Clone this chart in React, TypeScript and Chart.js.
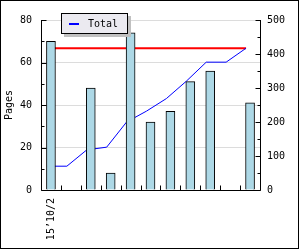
import React, { useEffect, useRef } from "react";
import { Chart, registerables } from "chart.js";

Chart.register(...registerables);

const categories = ["15\u201910/2", "", "", "", "", "", "", "", "", "", ""];
const pages = [70, null, 48, 8, 74, 32, 37, 51, 56, null, 41];
const totals = [70, 70, 118, 126, 200, 232, 269, 320, 376, 376, 417];
const target = [417, 417, 417, 417, 417, 417, 417, 417, 417, 417, 417];
const leftTicks = { min: 0, max: 80, step: 20 };
const rightTicks = { min: 0, max: 500, step: 100 };
// line points sit slightly left of the bar centres (fraction of a category), as in the original
const lineShift = 0.2;

const FONT = "'DejaVu Sans Mono', monospace";

const shiftPlugin = {
  id: "lineShift",
  beforeDatasetDraw(chart: any, args: any) {
    if (args.meta.type !== "line") return;
    const x = chart.scales.x;
    const w = x.getPixelForValue(1) - x.getPixelForValue(0);
    chart.ctx.save();
    chart.ctx.translate(-Math.round(w * lineShift), 0);
  },
  afterDatasetDraw(chart: any, args: any) {
    if (args.meta.type !== "line") return;
    chart.ctx.restore();
  },
};

const framePlugin = {
  id: "frame",
  beforeDraw(chart: any) {
    const ctx = chart.ctx;
    ctx.save();
    ctx.fillStyle = "#ffffff";
    ctx.fillRect(0, 0, chart.width, chart.height);
    ctx.restore();
  },
  afterDraw(chart: any) {
    const ctx = chart.ctx;
    const { left, right, top, bottom } = chart.chartArea;
    const y = chart.scales.y;
    const y1 = chart.scales.y1;
    const x = chart.scales.x;
    ctx.save();
    ctx.strokeStyle = "#000";
    ctx.lineWidth = 1;
    ctx.beginPath();
    const L = Math.round(left) + 0.5;
    const R = Math.round(right) + 0.5;
    const B = Math.round(bottom) + 0.5;
    ctx.moveTo(L, Math.round(top));
    ctx.lineTo(L, B);
    ctx.lineTo(R, B);
    ctx.lineTo(R, Math.round(top));
    for (let v = leftTicks.min; v <= leftTicks.max; v += leftTicks.step / 2) {
      const p = Math.round(y.getPixelForValue(v)) + 0.5;
      const len = v % leftTicks.step === 0 ? 5 : 3;
      ctx.moveTo(L, p);
      ctx.lineTo(L + len, p);
    }
    for (let v = rightTicks.min; v <= rightTicks.max; v += rightTicks.step / 2) {
      const p = Math.round(y1.getPixelForValue(v)) + 0.5;
      const len = v % rightTicks.step === 0 ? 5 : 3;
      ctx.moveTo(R, p);
      ctx.lineTo(R - len, p);
    }
    for (let i = 0; i < categories.length - 1; i++) {
      const p =
        Math.round((x.getPixelForValue(i) + x.getPixelForValue(i + 1)) / 2) + 0.5;
      ctx.moveTo(p, B);
      ctx.lineTo(p, B - 5);
    }
    ctx.stroke();

    // legend
    const lx = 61, ly = 13, lw = 67, lh = 21;
    ctx.fillStyle = "#c0c0c0";
    ctx.fillRect(lx + 3, ly + 3, lw, lh);
    ctx.fillStyle = "#ebeaf0";
    ctx.fillRect(lx, ly, lw, lh);
    ctx.strokeStyle = "#000";
    ctx.strokeRect(lx + 0.5, ly + 0.5, lw - 1, lh - 1);
    const ds = chart.data.datasets[1];
    ctx.strokeStyle = ds.borderColor;
    ctx.lineWidth = 2;
    ctx.beginPath();
    ctx.moveTo(lx + 8, ly + 11);
    ctx.lineTo(lx + 18, ly + 11);
    ctx.stroke();
    ctx.fillStyle = "#000";
    ctx.font = "10px " + FONT;
    ctx.textBaseline = "middle";
    ctx.textAlign = "left";
    ctx.fillText(ds.label, lx + 27, ly + 11);

    ctx.lineWidth = 1;
    ctx.strokeStyle = "#000";
    ctx.strokeRect(0.5, 0.5, 298, 248);
    ctx.restore();
  },
};

export default function App() {
  const ref = useRef<HTMLCanvasElement>(null);
  useEffect(() => {
    if (!ref.current) return;
    const chart = new Chart(ref.current, {
      type: "bar",
      data: {
        labels: categories,
        datasets: [
          {
            type: "bar",
            label: "Pages",
            data: pages as any,
            backgroundColor: "#add8e6",
            borderColor: "#000",
            borderWidth: 1,
            barThickness: 9,
            yAxisID: "y",
            order: 0,
          },
          {
            type: "line",
            label: "Total",
            data: totals,
            borderColor: "#0000ff",
            borderWidth: 1,
            pointRadius: 0,
            tension: 0,
            yAxisID: "y1",
            order: 1,
          },
          {
            type: "line",
            label: "Target",
            data: target,
            borderColor: "#ff0000",
            borderWidth: 2,
            pointRadius: 0,
            tension: 0,
            yAxisID: "y1",
            order: 2,
          },
        ] as any,
      },
      options: {
        responsive: false,
        animation: false,
        layout: { padding: { top: 20, left: 0, right: 0, bottom: 0 } },
        plugins: { legend: { display: false }, tooltip: { enabled: false } },
        scales: {
          x: {
            grid: { display: false, drawTicks: false },
            border: { display: false },
            ticks: {
              autoSkip: false,
              minRotation: 90,
              maxRotation: 90,
              padding: 8,
              color: "#000",
              font: { family: FONT, size: 10 },
            },
            afterFit: (s: any) => {
              s.height = 60;
            },
          },
          y: {
            position: "left",
            min: leftTicks.min,
            max: leftTicks.max,
            ticks: {
              stepSize: leftTicks.step,
              padding: 9,
              color: "#000",
              font: { family: FONT, size: 10 },
            },
            grid: { color: "#dcdcdc", drawTicks: false },
            border: { display: false },
            title: {
              display: true,
              text: "Pages",
              color: "#000",
              font: { family: FONT, size: 10 },
              padding: { top: 3, bottom: 0 },
            },
            afterFit: (s: any) => {
              s.width = 41;
            },
          },
          y1: {
            position: "right",
            min: rightTicks.min,
            max: rightTicks.max,
            ticks: {
              stepSize: rightTicks.step,
              padding: 7,
              color: "#000",
              font: { family: FONT, size: 10 },
            },
            grid: { display: false, drawTicks: false },
            border: { display: false },
            afterFit: (s: any) => {
              s.width = 40;
            },
          },
        },
      } as any,
      plugins: [shiftPlugin, framePlugin],
    });
    return () => chart.destroy();
  }, []);
  return (
    <div style={{ position: "absolute", left: 0, top: 0, width: 300, height: 250 }}>
      <canvas ref={ref} width={300} height={250} />
    </div>
  );
}
